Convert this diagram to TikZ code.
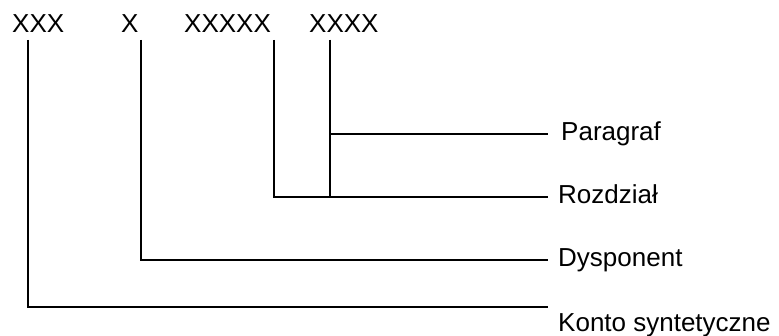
\documentclass[tikz,border=0pt]{standalone}
\usepackage{fontspec}
\setmainfont{Liberation Sans}
\begin{document}
\begin{tikzpicture}[x=1pt,y=1pt,
  lbl/.style={inner sep=0pt,anchor=base west,font=\fontsize{26}{30}\selectfont},
  ln/.style={line width=1.1pt}]
\useasboundingbox (0,0) rectangle (779,-336);
% top codes
\node[lbl] (xxx) at (12,-33) {XXX};
\node[lbl] (x) at (121,-33) {X};
\node[lbl] (xxxxx) at (184,-33) {XXXXX};
\node[lbl] (xxxx) at (309,-33) {XXXX};
% right labels
\node[lbl] (par) at (561,-141) {Paragraf};
\node[lbl] (roz) at (558,-204) {Rozdział};
\node[lbl] (dys) at (558,-267) {Dysponent};
\node[lbl] (kon) at (558,-332) {Konto syntetyczne};
% line end coordinates
\coordinate (t1) at (28,-40);
\coordinate (t2) at (141,-40);
\coordinate (t3) at (274,-40);
\coordinate (t4) at (330,-40);
\coordinate (e1) at (548,-134);
\coordinate (e2) at (548,-197);
\coordinate (e3) at (548,-260);
\coordinate (e4) at (548,-307);
% connectors
\draw[ln] (t4) |- (e1);
\draw[ln] (t4) -- (t4 |- e2);
\draw[ln] (t3) |- (e2);
\draw[ln] (t2) |- (e3);
\draw[ln] (t1) |- (e4);
\end{tikzpicture}
\end{document}
